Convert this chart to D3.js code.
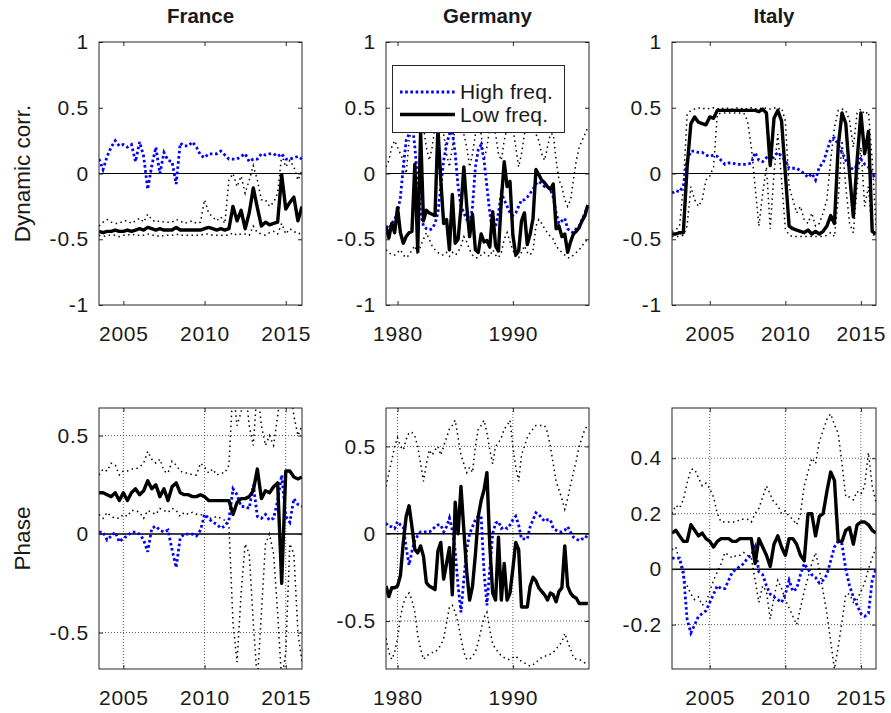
<!DOCTYPE html>
<html>
<head>
<meta charset="UTF-8" />
<title>dynamic correlation and phase</title>
<script src="https://d3js.org/d3.v7.min.js"></script>
<style>
  body { margin: 0; background: #fff; }
  text { font-family: "Liberation Sans", Arial, sans-serif; fill: #1a1a1a; }
</style>
</head>
<body>
<svg id="chart" width="891" height="713"></svg>

<script type="text/javascript">

//========================================================================
// data: quarterly estimates, first quarter of each country below
//========================================================================
var franceStart = 2003.5
var germanyStart = 1979.0
var italyStart = 2002.5

// France, dynamic correlation
var franceCorrHigh = [0.11,0.03,0.13,0.20,0.25,0.21,0.22,0.20,0.22,0.09,0.24,0.13,-0.12,0.06,0.20,0.00,0.16,0.10,0.09,-0.08,0.23,0.21,0.21,0.24,0.20,0.14,0.12,0.15,0.15,0.15,0.17,0.14,0.11,0.11,0.11,0.13,0.15,0.09,0.11,0.11,0.15,0.14,0.15,0.15,0.13,0.15,0.11,0.11,0.12,0.13,0.11]
var franceCorrLow = [-0.44,-0.45,-0.44,-0.44,-0.43,-0.44,-0.44,-0.43,-0.44,-0.43,-0.42,-0.43,-0.41,-0.42,-0.43,-0.42,-0.43,-0.43,-0.43,-0.41,-0.43,-0.43,-0.43,-0.43,-0.43,-0.43,-0.42,-0.41,-0.42,-0.43,-0.42,-0.43,-0.42,-0.25,-0.36,-0.28,-0.42,-0.30,-0.11,-0.26,-0.40,-0.37,-0.39,-0.38,-0.37,-0.01,-0.27,-0.22,-0.18,-0.36,-0.25]
var franceCorrUp = [-0.40,-0.37,-0.35,-0.37,-0.38,-0.38,-0.36,-0.36,-0.38,-0.36,-0.34,-0.37,-0.31,-0.35,-0.37,-0.36,-0.37,-0.37,-0.37,-0.35,-0.36,-0.38,-0.37,-0.36,-0.38,-0.37,-0.20,-0.30,-0.33,-0.36,-0.33,-0.38,-0.05,0.00,-0.10,-0.02,-0.15,-0.05,0.06,-0.05,-0.20,-0.20,-0.25,-0.22,-0.15,0.14,0.05,0.10,0.05,-0.05,0.02]
var franceCorrDn = [-0.47,-0.48,-0.47,-0.47,-0.47,-0.48,-0.47,-0.47,-0.46,-0.47,-0.47,-0.47,-0.46,-0.47,-0.47,-0.48,-0.47,-0.47,-0.47,-0.46,-0.47,-0.47,-0.47,-0.47,-0.47,-0.47,-0.46,-0.46,-0.47,-0.47,-0.47,-0.47,-0.47,-0.45,-0.47,-0.46,-0.46,-0.47,-0.40,-0.45,-0.46,-0.47,-0.45,-0.44,-0.46,-0.38,-0.46,-0.42,-0.44,-0.46,-0.45]

// France, phase
var francePhaseHigh = [0.01,0.01,-0.03,-0.01,0.01,-0.04,-0.02,-0.01,0.01,0.01,0.00,-0.03,-0.09,0.03,0.04,0.02,0.01,0.02,-0.08,-0.17,-0.02,0.00,0.00,0.00,-0.01,0.02,0.10,0.08,0.06,0.05,0.03,0.04,0.07,0.23,0.20,0.14,0.14,0.13,0.25,0.09,0.08,0.10,0.07,0.08,0.17,0.30,0.09,0.06,0.18,0.15,0.14]
var francePhaseLow = [0.21,0.21,0.20,0.19,0.21,0.17,0.21,0.17,0.21,0.23,0.20,0.22,0.27,0.23,0.25,0.19,0.23,0.17,0.24,0.26,0.21,0.20,0.20,0.19,0.19,0.20,0.19,0.17,0.17,0.17,0.17,0.17,0.17,0.10,0.16,0.18,0.18,0.19,0.22,0.33,0.18,0.22,0.21,0.24,0.26,-0.25,0.32,0.32,0.29,0.28,0.29]
var francePhaseUp = [0.30,0.33,0.32,0.36,0.35,0.30,0.32,0.32,0.33,0.33,0.34,0.36,0.42,0.38,0.36,0.38,0.32,0.31,0.37,0.35,0.32,0.31,0.31,0.30,0.30,0.36,0.34,0.31,0.33,0.30,0.31,0.31,0.35,0.75,0.55,0.62,0.75,0.55,0.45,0.75,0.55,0.45,0.50,0.45,0.60,0.75,0.75,0.75,0.60,0.50,0.55]
var francePhaseDn = [0.10,0.08,0.11,0.09,0.08,0.08,0.10,0.09,0.12,0.12,0.11,0.08,0.12,0.11,0.10,0.13,0.12,0.11,0.13,0.12,0.09,0.11,0.10,0.11,0.10,0.10,0.09,0.08,0.08,0.09,0.08,0.07,0.05,-0.45,-0.65,-0.30,-0.05,-0.10,-0.45,-0.75,-0.40,-0.05,0.00,-0.10,-0.40,-0.75,-0.60,-0.05,-0.10,-0.50,-0.65]

// Germany, dynamic correlation
var germanyCorrHigh = [-0.40,-0.42,-0.38,-0.35,-0.30,-0.18,0.05,0.25,0.30,0.40,0.20,-0.05,-0.30,-0.40,-0.42,-0.43,-0.42,-0.38,-0.30,-0.10,0.10,0.22,0.30,0.32,0.15,-0.10,-0.25,-0.30,-0.35,-0.40,-0.25,0.05,0.18,0.22,0.10,-0.10,-0.30,-0.45,-0.40,-0.30,-0.15,-0.20,-0.25,-0.30,-0.32,-0.30,-0.25,-0.20,-0.20,-0.18,-0.15,-0.12,-0.08,-0.06,-0.08,-0.10,-0.10,-0.12,-0.18,-0.30,-0.38,-0.36,-0.34,-0.42,-0.44,-0.45,-0.42,-0.40,-0.35,-0.30,-0.24]
var germanyCorrLow = [-0.40,-0.49,-0.38,-0.45,-0.26,-0.45,-0.53,-0.48,-0.45,-0.44,0.07,-0.59,0.32,-0.36,-0.28,-0.30,-0.31,-0.32,0.35,-0.05,-0.38,-0.35,-0.58,-0.16,-0.53,-0.50,-0.26,0.05,-0.25,-0.48,-0.31,-0.58,-0.60,-0.46,-0.52,-0.51,-0.56,-0.29,-0.55,-0.59,-0.20,0.09,-0.10,-0.06,-0.47,-0.62,-0.59,-0.36,-0.30,-0.54,-0.46,-0.34,0.03,-0.01,-0.05,-0.07,-0.10,-0.12,-0.08,-0.42,-0.40,-0.48,-0.46,-0.60,-0.52,-0.46,-0.44,-0.41,-0.36,-0.32,-0.24]
var germanyCorrUp = [0.05,0.10,0.20,0.25,0.20,0.15,0.10,0.00,0.25,0.35,0.40,0.40,0.40,0.35,0.20,0.10,0.20,0.35,0.40,0.40,0.30,0.15,0.05,0.20,0.35,0.38,0.35,0.30,0.20,0.05,0.15,0.30,0.35,0.30,0.10,0.20,0.35,0.38,0.30,0.15,0.10,0.25,0.35,0.38,0.35,0.20,0.05,0.15,0.30,0.35,0.38,0.35,0.30,0.25,0.15,0.10,0.20,0.30,0.30,0.10,-0.05,-0.10,-0.20,-0.25,-0.20,-0.05,0.10,0.20,0.25,0.30,0.35]
var germanyCorrDn = [-0.58,-0.60,-0.62,-0.62,-0.60,-0.58,-0.62,-0.64,-0.62,-0.58,-0.55,-0.62,-0.55,-0.50,-0.45,-0.50,-0.55,-0.58,-0.60,-0.62,-0.62,-0.60,-0.63,-0.60,-0.62,-0.60,-0.55,-0.48,-0.52,-0.58,-0.62,-0.64,-0.64,-0.62,-0.60,-0.62,-0.63,-0.58,-0.62,-0.64,-0.60,-0.50,-0.45,-0.52,-0.58,-0.64,-0.64,-0.60,-0.55,-0.60,-0.62,-0.58,-0.40,-0.35,-0.38,-0.42,-0.45,-0.48,-0.50,-0.55,-0.58,-0.60,-0.62,-0.64,-0.64,-0.62,-0.60,-0.58,-0.55,-0.52,-0.50]

// Germany, phase
var germanyPhaseHigh = [0.06,0.04,0.04,0.03,0.07,0.05,0.04,-0.08,-0.18,-0.10,-0.04,-0.01,0.01,0.01,0.01,0.01,0.02,0.04,0.05,0.05,0.01,0.04,0.09,0.02,-0.10,-0.30,-0.45,-0.26,-0.09,0.00,0.04,0.08,0.10,0.10,-0.22,-0.41,-0.20,0.00,0.06,0.07,0.03,0.04,0.03,0.05,0.08,0.10,0.05,-0.03,-0.03,-0.03,0.04,0.08,0.12,0.11,0.09,0.07,0.08,0.08,0.03,0.02,0.01,0.01,0.02,0.04,0.01,-0.02,-0.03,-0.04,-0.03,-0.03,0.00]
var germanyPhaseLow = [-0.30,-0.36,-0.31,-0.31,-0.30,-0.24,-0.05,0.10,0.16,0.04,-0.09,-0.11,-0.07,-0.13,-0.28,-0.30,-0.31,-0.32,-0.10,-0.05,-0.26,-0.17,-0.08,-0.35,0.18,0.00,0.27,0.02,-0.22,-0.38,-0.30,-0.12,0.10,0.19,0.25,0.35,-0.07,-0.34,-0.38,-0.02,-0.38,-0.17,-0.38,-0.34,-0.20,-0.05,-0.09,-0.42,-0.42,-0.42,-0.30,-0.25,-0.27,-0.31,-0.33,-0.35,-0.38,-0.34,-0.35,-0.39,-0.33,-0.31,-0.07,-0.30,-0.34,-0.36,-0.37,-0.40,-0.40,-0.40,-0.40]
var germanyPhaseUp = [0.27,0.35,0.42,0.50,0.55,0.50,0.48,0.54,0.58,0.58,0.56,0.50,0.40,0.30,0.40,0.48,0.45,0.48,0.50,0.45,0.50,0.55,0.60,0.62,0.65,0.55,0.45,0.40,0.35,0.38,0.35,0.50,0.60,0.62,0.65,0.58,0.48,0.40,0.50,0.52,0.55,0.60,0.62,0.65,0.50,0.38,0.30,0.45,0.50,0.55,0.58,0.60,0.62,0.62,0.62,0.62,0.58,0.50,0.40,0.30,0.25,0.20,0.14,0.20,0.28,0.35,0.42,0.50,0.55,0.60,0.62]
var germanyPhaseDn = [-0.60,-0.68,-0.72,-0.68,-0.60,-0.48,-0.40,-0.36,-0.34,-0.38,-0.45,-0.58,-0.66,-0.72,-0.70,-0.69,-0.68,-0.68,-0.66,-0.64,-0.60,-0.51,-0.42,-0.41,-0.45,-0.51,-0.60,-0.68,-0.72,-0.72,-0.70,-0.68,-0.62,-0.55,-0.48,-0.45,-0.55,-0.63,-0.66,-0.68,-0.70,-0.71,-0.72,-0.72,-0.71,-0.70,-0.72,-0.73,-0.74,-0.75,-0.76,-0.75,-0.74,-0.72,-0.71,-0.70,-0.70,-0.69,-0.68,-0.66,-0.64,-0.62,-0.57,-0.62,-0.66,-0.71,-0.72,-0.72,-0.73,-0.74,-0.74]

// Italy, dynamic correlation
var italyCorrHigh = [-0.15,-0.13,-0.14,-0.09,0.10,0.17,0.17,0.16,0.16,0.14,0.13,0.14,0.13,0.10,0.07,0.08,0.08,0.07,0.07,0.07,0.07,0.08,0.16,0.10,0.09,0.12,0.09,0.13,0.16,0.13,0.10,0.04,0.04,0.04,0.02,0.00,-0.03,0.00,-0.05,0.05,0.08,0.17,0.26,0.27,0.22,0.16,0.10,0.05,0.03,0.06,0.11,0.07,0.05,0.00,-0.05]
var italyCorrLow = [-0.46,-0.46,-0.45,-0.45,0.05,0.38,0.43,0.39,0.38,0.37,0.43,0.42,0.48,0.48,0.48,0.48,0.48,0.48,0.48,0.48,0.48,0.48,0.48,0.47,0.49,0.46,0.06,0.42,0.48,0.40,0.00,-0.40,-0.42,-0.43,-0.44,-0.45,-0.43,-0.46,-0.44,-0.46,-0.44,-0.40,-0.32,-0.38,0.21,0.46,0.38,0.00,-0.33,0.10,0.46,0.15,0.32,-0.44,-0.46]
var italyCorrUp = [-0.44,-0.43,-0.40,-0.10,0.45,0.48,0.49,0.50,0.49,0.50,0.49,0.50,0.49,0.50,0.49,0.50,0.49,0.50,0.49,0.50,0.49,0.50,0.49,0.50,0.49,0.50,0.49,0.50,0.49,0.50,0.40,-0.10,-0.20,-0.30,-0.25,-0.35,-0.38,-0.30,-0.40,-0.38,-0.30,-0.20,0.10,0.35,0.48,0.49,0.48,0.40,0.20,0.46,0.49,0.45,0.47,0.10,-0.40]
var italyCorrDn = [-0.48,-0.48,-0.48,-0.47,-0.40,-0.10,-0.20,-0.25,-0.20,-0.05,-0.02,0.05,0.45,0.46,0.46,0.46,0.46,0.46,0.46,0.46,0.40,0.20,-0.10,-0.40,-0.15,0.05,-0.42,0.00,0.30,-0.05,-0.42,-0.47,-0.48,-0.48,-0.48,-0.48,-0.48,-0.48,-0.48,-0.48,-0.48,-0.47,-0.45,-0.48,-0.20,0.25,-0.10,-0.38,-0.45,-0.10,0.20,-0.25,-0.10,-0.46,-0.48]

// Italy, phase
var italyPhaseHigh = [0.04,0.04,0.04,-0.01,-0.18,-0.23,-0.20,-0.17,-0.16,-0.15,-0.12,-0.09,-0.06,-0.07,-0.07,-0.04,-0.01,0.00,0.01,0.02,0.04,0.05,0.08,-0.01,-0.02,-0.06,-0.09,-0.10,-0.11,-0.12,-0.09,-0.04,-0.08,-0.07,-0.02,0.02,0.00,-0.02,-0.03,-0.05,-0.04,-0.02,0.03,0.08,0.10,0.09,0.00,-0.06,-0.10,-0.13,-0.16,-0.17,-0.16,-0.04,0.00]
var italyPhaseLow = [0.13,0.14,0.12,0.10,0.10,0.16,0.14,0.12,0.13,0.11,0.10,0.08,0.10,0.11,0.11,0.11,0.10,0.10,0.11,0.11,0.11,0.11,0.02,0.11,0.08,0.05,0.01,0.09,0.12,0.08,0.05,0.11,0.11,0.09,0.05,0.03,0.20,0.20,0.12,0.19,0.20,0.28,0.35,0.32,0.10,0.10,0.14,0.15,0.09,0.16,0.17,0.17,0.16,0.14,0.13]
var italyPhaseUp = [0.20,0.23,0.22,0.25,0.31,0.36,0.36,0.33,0.30,0.31,0.29,0.26,0.20,0.17,0.17,0.17,0.17,0.17,0.18,0.18,0.18,0.17,0.20,0.22,0.26,0.30,0.27,0.24,0.23,0.20,0.21,0.19,0.18,0.16,0.20,0.30,0.35,0.40,0.38,0.46,0.50,0.54,0.56,0.52,0.49,0.38,0.26,0.26,0.25,0.28,0.27,0.30,0.42,0.30,0.24]
var italyPhaseDn = [0.07,0.08,0.03,-0.03,-0.06,-0.09,-0.11,-0.10,-0.13,-0.12,-0.08,-0.04,-0.01,0.02,0.06,0.05,0.04,0.05,0.05,0.06,0.05,0.04,-0.04,-0.12,-0.06,-0.08,-0.18,-0.10,-0.04,-0.07,-0.11,-0.14,-0.17,-0.20,-0.14,-0.08,-0.03,0.02,0.06,0.00,-0.08,-0.16,-0.26,-0.36,-0.28,-0.19,-0.09,-0.09,-0.12,-0.11,-0.08,-0.05,0.00,0.04,0.08]

// axes
var countries = ["France", "Germany", "Italy"]
var xDomains = [[2003.5, 2016.0], [1979.0, 1996.6], [2002.5, 2016.0]]
var xTickValues = [[2005, 2010, 2015], [1980, 1990], [2005, 2010, 2015]]
var corrYDomain = [-1, 1]
var corrYTicks = [-1, -0.5, 0, 0.5, 1]
var phaseYDomains = [[-0.685, 0.64], [-0.775, 0.72], [-0.36, 0.581]]
var phaseYTicks = [[-0.5, 0, 0.5], [-0.5, 0, 0.5], [-0.2, 0, 0.2, 0.4]]
var legendLabels = ["High freq.", "Low freq."]

//========================================================================
// layout
//========================================================================
var colLeft = [99, 386, 672]
var colRight = [302, 589, 876]
var rowTop = [42, 408]
var rowBottom = [305, 669]

var starts = [franceStart, germanyStart, italyStart]
var corrSeries = [
	[franceCorrHigh, franceCorrLow, franceCorrUp, franceCorrDn],
	[germanyCorrHigh, germanyCorrLow, germanyCorrUp, germanyCorrDn],
	[italyCorrHigh, italyCorrLow, italyCorrUp, italyCorrDn]
]
var phaseSeries = [
	[francePhaseHigh, francePhaseLow, francePhaseUp, francePhaseDn],
	[germanyPhaseHigh, germanyPhaseLow, germanyPhaseUp, germanyPhaseDn],
	[italyPhaseHigh, italyPhaseLow, italyPhaseUp, italyPhaseDn]
]

var svg = d3.select("#chart")
var defs = svg.append("defs")

function toPoints(values, start) {
	return values.map((v, i) => [start + i * 0.25, v])
}

function drawPanel(id, c, r, yDomain, yTicks, series, grid) {
	var left = colLeft[c], right = colRight[c], top = rowTop[r], bottom = rowBottom[r]
	var x = d3.scaleLinear().domain(xDomains[c]).range([left, right])
	var y = d3.scaleLinear().domain(yDomain).range([bottom, top])

	defs.append("clipPath").attr("id", id)
		.append("rect")
		.attr("x", left).attr("y", top)
		.attr("width", right - left).attr("height", bottom - top)

	var g = svg.append("g")
	var plot = g.append("g").attr("clip-path", "url(#" + id + ")")

	if (grid) {
		plot.selectAll("line.vgrid")
			.data(xTickValues[c])
			.enter()
			.append("line")
			.attr("x1", d => x(d)).attr("x2", d => x(d))
			.attr("y1", top).attr("y2", bottom)
			.attr("stroke", "#333").attr("stroke-width", 0.8)
			.attr("stroke-dasharray", "1,2")
		plot.selectAll("line.hgrid")
			.data(yTicks.filter(d => d !== 0))
			.enter()
			.append("line")
			.attr("x1", left).attr("x2", right)
			.attr("y1", d => y(d)).attr("y2", d => y(d))
			.attr("stroke", "#333").attr("stroke-width", 0.8)
			.attr("stroke-dasharray", "1,2")
	}

	// zero line
	plot.append("line")
		.attr("x1", left).attr("x2", right)
		.attr("y1", y(0)).attr("y2", y(0))
		.attr("stroke", "#000")
		.attr("stroke-width", grid ? 1.5 : 1)

	var line = d3.line().x(d => x(d[0])).y(d => y(d[1]))
	var start = starts[c]

	// bands
	plot.selectAll("path.band")
		.data([series[2], series[3]])
		.enter()
		.append("path")
		.attr("d", d => line(toPoints(d, start)))
		.attr("fill", "none")
		.attr("stroke", "#000")
		.attr("stroke-width", 1.5)
		.attr("stroke-dasharray", "1.5,3.5")

	// high frequency
	plot.append("path")
		.attr("d", line(toPoints(series[0], start)))
		.attr("fill", "none")
		.attr("stroke", "#0000ff")
		.attr("stroke-width", 2.8)
		.attr("stroke-dasharray", "2.6,2.6")

	// low frequency
	plot.append("path")
		.attr("d", line(toPoints(series[1], start)))
		.attr("fill", "none")
		.attr("stroke", "#000")
		.attr("stroke-width", 3.4)
		.attr("stroke-linejoin", "round")

	// box
	g.append("rect")
		.attr("x", left).attr("y", top)
		.attr("width", right - left).attr("height", bottom - top)
		.attr("fill", "none").attr("stroke", "#262626").attr("stroke-width", 1)

	var tickLen = -4
	g.append("g").attr("transform", "translate(0," + bottom + ")")
		.call(d3.axisBottom(x).tickValues(xTickValues[c]).tickSize(tickLen).tickPadding(21).tickFormat(d3.format("d")))
		.call(a => a.select(".domain").remove())
	g.append("g").attr("transform", "translate(0," + top + ")")
		.call(d3.axisTop(x).tickValues(xTickValues[c]).tickSize(tickLen).tickFormat(""))
		.call(a => a.select(".domain").remove())
	g.append("g").attr("transform", "translate(" + left + ",0)")
		.call(d3.axisLeft(y).tickValues(yTicks).tickSize(tickLen).tickPadding(10).tickFormat(d => String(d)))
		.call(a => a.select(".domain").remove())
	g.append("g").attr("transform", "translate(" + right + ",0)")
		.call(d3.axisRight(y).tickValues(yTicks).tickSize(tickLen).tickFormat(""))
		.call(a => a.select(".domain").remove())

	g.selectAll(".tick line").attr("stroke", "#262626")
	g.selectAll(".tick text")
		.attr("font-family", "Liberation Sans, Arial, sans-serif")
		.attr("font-size", 21)
		.attr("letter-spacing", 0.8)
		.attr("fill", "#1a1a1a")

	return {x: x, y: y}
}

countries.forEach((name, c) => {
	drawPanel("corr" + c, c, 0, corrYDomain, corrYTicks, corrSeries[c], false)
	drawPanel("phase" + c, c, 1, phaseYDomains[c], phaseYTicks[c], phaseSeries[c], true)

	svg.append("text")
		.attr("x", (colLeft[c] + colRight[c]) / 2)
		.attr("y", 23)
		.attr("text-anchor", "middle")
		.attr("font-weight", "bold")
		.attr("font-size", 20.5)
		.text(name)
})

// row labels
svg.append("text")
	.attr("transform", "translate(30," + (rowTop[0] + rowBottom[0]) / 2 + ") rotate(-90)")
	.attr("text-anchor", "middle")
	.attr("font-size", 22.5)
	.text("Dynamic corr.")
svg.append("text")
	.attr("transform", "translate(30," + (rowTop[1] + rowBottom[1]) / 2 + ") rotate(-90)")
	.attr("text-anchor", "middle")
	.attr("font-size", 22.5)
	.text("Phase")

// legend (inside the Germany correlation panel)
var legend = svg.append("g")
legend.append("rect")
	.attr("x", 392.5).attr("y", 65.5)
	.attr("width", 172).attr("height", 67)
	.attr("fill", "#fff").attr("stroke", "#262626").attr("stroke-width", 1)
var legendRows = legend.selectAll("g.entry")
	.data(legendLabels)
	.enter()
	.append("g")
	.attr("transform", (d, i) => "translate(400," + (92 + i * 22.5) + ")")
legendRows.append("line")
	.attr("x1", 0).attr("x2", 55).attr("y1", 0).attr("y2", 0)
	.attr("stroke", (d, i) => i === 0 ? "#0000ff" : "#000")
	.attr("stroke-width", (d, i) => i === 0 ? 2.8 : 3.4)
	.attr("stroke-dasharray", (d, i) => i === 0 ? "2.6,2.6" : null)
legendRows.append("text")
	.attr("x", 60).attr("y", 7)
	.attr("font-size", 21)
	.attr("letter-spacing", 0.2)
	.text(d => d)

</script>
</body>
</html>
